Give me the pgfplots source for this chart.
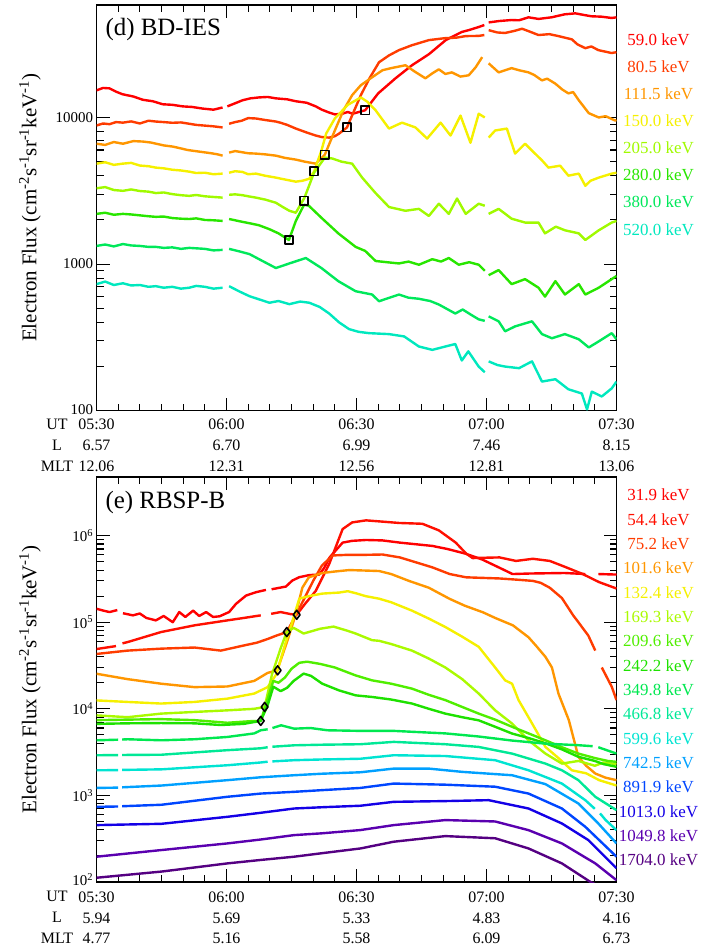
\documentclass[border=0pt]{standalone}
\usepackage{fontspec}
\setmainfont{Liberation Serif}
\usepackage{pgfplots}
\pgfplotsset{compat=1.18}

% channel colours, top panel (BD-IES)
\definecolor{d1}{RGB}{255,0,0}
\definecolor{d2}{RGB}{255,60,0}
\definecolor{d3}{RGB}{255,150,0}
\definecolor{d4}{RGB}{245,240,0}
\definecolor{d5}{RGB}{160,250,0}
\definecolor{d6}{RGB}{40,230,0}
\definecolor{d7}{RGB}{0,232,90}
\definecolor{d8}{RGB}{0,232,190}
% channel colours, bottom panel (RBSP-B)
\definecolor{e1}{RGB}{255,0,0}
\definecolor{e2}{RGB}{255,15,0}
\definecolor{e3}{RGB}{255,60,0}
\definecolor{e4}{RGB}{255,150,0}
\definecolor{e5}{RGB}{245,240,0}
\definecolor{e6}{RGB}{170,250,0}
\definecolor{e7}{RGB}{80,238,0}
\definecolor{e8}{RGB}{30,225,0}
\definecolor{e9}{RGB}{0,232,80}
\definecolor{e10}{RGB}{0,232,150}
\definecolor{e11}{RGB}{0,228,210}
\definecolor{e12}{RGB}{0,160,255}
\definecolor{e13}{RGB}{0,70,255}
\definecolor{e14}{RGB}{20,0,230}
\definecolor{e15}{RGB}{90,0,175}
\definecolor{e16}{RGB}{85,0,130}

\begin{document}
\begin{tikzpicture}
\useasboundingbox (0,0) rectangle (704bp,-947bp);

%% ---------------- (d) BD-IES ----------------
\begin{axis}[at={(96.5bp,-410.7bp)}, anchor=south west,
  scale only axis, width=520bp, height=405.7bp,
  ymode=log, xmin=0, xmax=120, ymin=100, ymax=58500,
  xtick={0,30,60,90,120}, minor x tick num=5,
  tick align=inside, major tick length=13bp, minor tick length=7bp,
  axis line style={line width=1.4bp}, tick style={line width=1.1bp, black},
  xticklabel style={align=center, yshift=-5bp, font=\fontsize{16}{21}\selectfont},
  yticklabel style={font=\fontsize{15}{18}\selectfont},
  unbounded coords=jump, clip mode=individual,
  every axis plot/.append style={line width=2.4bp, line join=round},
  ytick={100,1000,10000}, yticklabels={\raisebox{3bp}{100},1000,10000},
  xticklabels={{05:30\\6.57\\12.06},{06:00\\6.70\\12.31},{06:30\\6.99\\12.56},{07:00\\7.46\\12.81},{07:30\\8.15\\13.06}}]
\addplot[d1] table {
0 15300
1.5 15900
3 15800
4.5 15000
6 14400
8.5 13900
10.7 13200
13 12900
15.3 12300
17.5 12200
19.9 11900
22 11800
24.5 11500
27 11300
29.1 11700
29.6 nan
30.2 11900
32 12500
33.7 13100
35.5 13500
37.5 13700
39.5 13800
41.4 13500
44 13300
46 12900
48.5 12600
50.6 11900
52 11300
53.7 10800
55 10500
56.7 10600
58 10900
59.1 10600
62 11200
65 14600
69 18500
72.8 22700
76.7 27000
80.6 33700
84.3 38300
86 39500
88.2 41400
89.5 42700
89.9 nan
90.5 44500
93 45500
95.8 46200
97.5 46000
99.7 48200
102 47000
105 48200
108 50500
110.5 51300
112.5 50000
114.2 49000
116.5 48700
118.9 47700
120 48200
};
\addplot[d2] table {
0 8810
1.5 9100
3 9000
4.5 9300
6.1 9220
8 9400
10 9100
12 9500
13.7 9380
15.5 9300
17.5 9200
19.5 9250
21.4 9060
23 8900
25 8800
27 8700
29.1 8550
29.6 nan
30.6 9060
32 9300
33.5 9500
35 9900
36.8 9840
39 9600
41.4 9380
42.5 9200
44 8900
46 8400
48.5 7900
50.6 7530
52 7350
53.7 7290
55 7450
56 7770
57.8 8550
59.5 11200
61 14200
63 18500
65.2 23800
67.5 26500
69.8 28800
72.8 31100
76.7 33700
80.6 34800
83 35000
85.2 35900
88.2 36000
89.5 36500
89.9 nan
90.5 39400
92.5 38000
94.3 37700
96.5 39000
98.2 40300
100 38500
102 36500
104.5 37000
106.6 35900
109.7 34100
111 31500
112.8 29700
114.2 30500
115.8 28800
118.9 27500
120 27900
};
\addplot[d3] table {
0 6620
2 6500
4 6800
6.1 6620
8.5 6900
10.7 6850
12.5 6750
14 6600
15.5 6450
17.6 6330
19.5 6150
21 6000
23.7 5850
26.5 5700
28 5600
29.1 5490
29.6 nan
30.6 5760
32 5900
33.5 5800
35 5700
36.8 5670
39 5600
41.4 5490
43.5 5300
46 5160
48 5000
50.6 4840
52.7 5580
55 8150
57 11200
59 14200
61 16600
63.6 18800
66 21000
68 21700
71.3 22700
73.5 20500
75.9 18500
77.5 20000
79 21300
80.5 19800
82 20300
84 19000
85.9 19400
87.5 22000
89 25800
89.5 nan
90.5 23400
92.8 20300
94.3 21000
95.8 21700
97.5 21000
99.7 20300
101 19500
102.8 17900
104 18400
105.9 17000
107.5 15500
108.9 14600
110 14900
111.3 13100
113.6 10700
115.9 10000
117.5 10200
119.7 9530
120 9600
};
\addplot[d4] table {
0 4840
2 4950
4 4750
6 4840
8 4900
10 4700
12 4650
13.7 4550
15.5 4500
17.5 4400
19.5 4350
21.4 4270
23 4180
25 4200
27 4100
29.1 4140
29.6 nan
30.6 4200
32 4300
33.7 4250
35 4100
36.8 4140
39 4000
41.4 3890
43 3800
44 3750
46 3650
47.5 3700
49.1 3820
50.2 4270
51.9 5940
53 7770
55 9840
58 12200
61 13700
62.5 12800
64.4 11200
67.5 8400
70.5 9220
73.6 8550
76.3 7180
79.4 9220
81.7 7530
84 10300
86.3 6720
88.2 10600
89.6 10000
90 nan
90.5 7290
92 8150
94.7 8400
96.6 5670
98.9 6620
101.2 5670
102.8 5100
104.3 4550
107 4690
108.9 4010
111.3 4140
112.8 3420
114 3700
115.9 3890
118.9 4140
120 4200
};
\addplot[d5] table {
0 3290
2 3350
4 3200
6.1 3160
8 3230
10 3150
12 3120
13.7 3050
15.5 3080
17.5 3000
19.5 2950
21.4 2920
23 2960
25 2900
27 2870
29.1 2840
29.6 nan
30.6 2970
32 2990
33.7 2950
35 2900
36.8 2840
39 2750
41.4 2620
43 2450
44.5 2310
46 2240
48 2840
50.2 4200
52.7 5330
54.4 5250
56.5 5000
59 4840
61.3 3890
64.4 3050
67.5 2450
71.3 2310
74.4 2380
76.7 2130
79 2580
81.3 2200
83.2 2800
85.2 2200
88.2 2580
89.6 2500
90 nan
90.5 2200
92.8 2380
95.8 2040
98.9 1920
102 1920
103.5 1620
106 1800
108.1 1700
111.3 1620
112.8 1460
115.9 1700
118.9 1920
120 1970
};
\addplot[d6] table {
0 2200
2 2240
4 2170
6.1 2200
8 2180
10 2150
12 2120
13.7 2100
15.5 2110
17.5 2060
19.5 2040
21.4 2030
23 2050
25 2000
27 1990
29.1 1970
29.6 nan
30.6 2030
33 1960
35.3 1900
37.5 1840
39.9 1730
42 1620
44.4 1460
46 1970
47.9 2540
49 2500
51.9 2070
55.8 1620
59.8 1310
62 1230
64.4 1050
67 1030
69.8 1010
72 1040
74.4 990
77.5 1080
79.5 1040
81.3 1100
83.6 990
86 1030
88.2 990
89.6 900
90 nan
90.5 840
92.8 910
95.8 730
98.9 790
102 690
103.5 600
105.9 765
108.1 620
111.3 730
112.8 620
115.9 690
118.9 790
120 830
};
\addplot[d7] table {
0 1330
2 1360
4 1320
6.1 1370
8 1340
10 1330
12 1310
13.7 1310
15.5 1290
17.5 1300
19.5 1270
21.4 1290
25 1270
27 1240
29.1 1250
29.6 nan
30.6 1270
33 1220
35.3 1170
38.3 1050
41.4 940
44.5 1010
48.3 1100
51.9 940
55.8 765
59.8 653
63.6 620
65.2 558
69.8 620
72 590
74.4 580
77 560
79 530
82.8 460
84.5 490
86.5 450
88.2 420
89.6 410
90 nan
90.5 440
92.8 407
94.3 348
96.6 376
100.5 407
102.8 333
105.1 312
108.1 333
111.3 307
113.6 270
115.9 297
118.9 338
120 307
};
\addplot[d8] table {
0 730
2 760
4 720
6.1 740
8 715
10 720
12 700
13.7 707
15.5 690
17.5 700
19.5 680
21.4 690
23 710
25 700
27 680
29.1 690
29.6 nan
30.6 707
33 650
35.3 604
37.5 575
39.9 545
42 560
44.5 533
47 555
49.1 545
51.5 510
53.7 460
56 400
58.3 360
60.5 345
62.9 338
67.5 333
71 321
74.4 274
77.5 260
80.5 274
82.8 285
84.3 220
85.8 254
88.2 200
89.6 183
90 nan
90.5 217
92.5 205
94.3 200
97.5 195
100.5 217
102.8 158
105.9 164
108.9 140
112 131
113.2 102
114.3 135
116.6 125
118.9 142
120 158
};
% onset markers
\addplot[only marks, mark=square, mark size=4.2bp, mark options={black, line width=1.6bp}] table {
44.4 1460
47.9 2700
50.2 4300
52.7 5580
57.8 8550
62.0 11200
};
\end{axis}

\node[anchor=west, font=\fontsize{25}{28}\selectfont] at (102bp,-30bp) {(d) BD-IES};
\node[rotate=90, font=\fontsize{21}{25}\selectfont] at (30bp,-207.8bp) {Electron Flux (cm\textsuperscript{-2}s\textsuperscript{-1}sr\textsuperscript{-1}keV\textsuperscript{-1})};
\node[anchor=north, align=center, font=\fontsize{16}{21}\selectfont] at (57bp,-415.7bp) {UT\\L\\MLT};
\foreach \t/\c [count=\i from 0] in {59.0/d1,80.5/d2,111.5/d3,150.0/d4,205.0/d5,280.0/d6,380.0/d7,520.0/d8}
  \node[text=\c, font=\fontsize{17}{20}\selectfont] at (658.5bp,-39.3bp-\i*27.14bp) {\t\ keV};

%% ---------------- (e) RBSP-B ----------------
\begin{axis}[at={(96.5bp,-882bp)}, anchor=south west,
  scale only axis, width=520bp, height=405bp,
  ymode=log, xmin=0, xmax=120, ymin=100, ymax=4.75e6,
  xtick={0,30,60,90,120}, minor x tick num=5,
  tick align=inside, major tick length=13bp, minor tick length=7bp,
  axis line style={line width=1.4bp}, tick style={line width=1.1bp, black},
  xticklabel style={align=center, yshift=-6bp, font=\fontsize{16}{21}\selectfont},
  yticklabel style={font=\fontsize{15}{18}\selectfont},
  unbounded coords=jump, clip mode=individual,
  every axis plot/.append style={line width=2.4bp, line join=round},
  ytick={1e2,1e3,1e4,1e5,1e6},
  yticklabels={\raisebox{5bp}{10\textsuperscript{2}},10\textsuperscript{3},10\textsuperscript{4},10\textsuperscript{5},10\textsuperscript{6}},
  xticklabels={{05:30\\5.94\\4.77},{06:00\\5.69\\5.16},{06:30\\5.33\\5.58},{07:00\\4.83\\6.09},{07:30\\4.16\\6.73}}]
\addplot[e1] table {
0 143000
1.6 136000
3 131000
4.8 138000
5.3 nan
6.1 127000
8.4 120000
10 126000
11.5 112000
13.7 105000
15.5 118000
17.6 100000
19.1 131000
20.5 115000
22.3 136000
23.7 118000
25.3 131000
26.9 115000
28.4 117000
30.6 131000
32.2 163000
34.5 203000
36.8 222000
39.1 236000
39.7 nan
40.4 240000
43.7 258000
45.2 303000
46.8 331000
49.1 350000
51.4 355000
52.5 420000
53.8 560000
56.8 830000
59 870000
62.2 890000
66 880000
70 830000
77.5 760000
81 700000
85.1 620000
89 530000
92.8 430000
96 360000
100 365000
108 370000
112.8 360000
114.3 nan
115.8 360000
120 355000
};
\addplot[e2] table {
0 49000
4.5 53000
5.2 nan
6 57000
7.2 59000
14.9 77000
22.6 92000
30.2 105000
34 112000
37.9 120000
38.8 nan
40.3 125000
42.5 131000
44.8 124000
46.2 122000
48 160000
50.6 230000
53.7 470000
56.8 1190000
59 1420000
62.2 1500000
66 1450000
69.8 1400000
75.2 1370000
79 1150000
82.9 830000
85.3 620000
86.8 550000
89.5 555000
93 560000
96.8 510000
100.7 540000
104.6 510000
108.4 430000
112.2 360000
116 290000
120 245000
};
\addplot[e3] table {
0 43000
7.2 47000
14.9 49500
22.6 51000
28.7 47000
34.1 54000
37 58000
39.5 64000
41.5 70000
43.9 77000
46 120000
48 190000
50 300000
52 450000
54.5 590000
58 600000
62.2 600000
66 605000
70 560000
73.8 490000
77.5 430000
81.5 360000
85.3 330000
89 325000
93 320000
97 310000
100.7 300000
102.5 285000
104.6 250000
107.4 190000
110 120000
111.2 100000
113.5 70000
115.1 47000
115.6 nan
116.6 30000
118.9 18000
120 12600
};
\addplot[e4] table {
0 25400
7.2 22000
14.9 19500
22.6 17800
30.2 18100
36.4 21000
39.5 26000
41.7 27800
44 60000
46 125000
47.5 250000
49 330000
52.1 370000
55 385000
58.3 400000
62 395000
65.2 390000
68 360000
72.1 300000
76.7 250000
81.5 186000
85 155000
89.2 130000
92 112000
96.1 92000
99.7 67000
101.5 53000
103.6 39800
105.1 30000
106.6 15000
109 7400
111.2 2790
113 2200
115.1 1790
117.5 1600
120 1500
};
\addplot[e5] table {
0 12500
7.2 12000
14.9 11500
22.6 12000
30.2 13100
36.4 15000
39.5 17800
41.5 25000
43.5 55000
45 95000
46.8 187000
49 200000
52.1 214000
56 220000
58 228000
60 215000
62.1 200000
65.2 187000
68 170000
72.8 136000
76.7 110000
80.5 88000
84.4 68000
88.2 52000
92 30000
94.3 21300
95.9 19500
97.4 12600
100.5 6800
103.6 3630
106.6 2700
109.7 1950
113 1800
116 1500
120 1300
};
\addplot[e6] table {
0 8400
7.2 8000
14.9 8800
22.6 9200
30.2 9600
36.4 10000
38.8 10500
40.5 25000
42.5 50000
43.9 77000
45.5 86000
47.8 74000
51.6 84000
54.7 89000
57.8 80000
59.8 74000
63.6 62000
65.2 61000
68 56000
72.8 47000
76.7 38000
80.5 30000
84.4 22000
88.2 15000
92 9600
95.9 6760
99.7 4330
103.6 3040
107.4 2330
111.2 2500
115 2200
117 2400
120 2300
};
\addplot[e7] table {
0 7400
7.2 7500
14.9 7600
22.6 7400
30.2 6900
35.6 7200
37.9 7250
39.5 13000
40.8 21000
42 20000
43.5 23000
45 29000
46.8 34000
48.6 35000
51.6 33000
55 30000
59.8 24300
63.6 21300
68 19500
72.8 17100
76.7 14500
80.5 12600
84.4 10500
88.2 8800
92 7500
95.9 6200
99.7 5200
103.6 4330
107.4 3600
111.2 3040
115 2700
118 2500
120 2440
};
\addplot[e8] table {
0 6700
7.2 6800
14.9 6850
22.6 6800
28.7 6500
34 6700
37.9 7250
39.5 11000
40.8 18000
42.5 16000
44 17500
45.5 21000
47.8 25500
49.5 24000
52.1 19500
56 16300
59.8 14300
63.6 13700
68 12800
72.8 11500
76.7 10000
80.5 8800
84.4 8000
88.2 7360
92 6200
95.9 5180
99.7 4600
103.6 4000
107.4 3400
111.2 2790
115 2500
117 2300
120 2140
};
\addplot[e9] table {
0 4330
5 4400
5.4 nan
5.9 4420
7.2 4450
15 4330
22.6 4450
30.2 4730
36.4 5200
37.9 5650
39.5 5800
39.9 nan
40.6 6000
42.6 6450
45.6 5900
49.4 6000
53.3 5650
60.9 5560
68.6 5560
80.5 5200
88 4800
95.9 4300
103.6 3960
111.2 3800
114.5 3700
115 nan
115.8 3600
120 3040
};
\addplot[e10] table {
0 2910
5 2920
5.4 nan
5.9 2930
15 2950
30.2 3330
37.9 3500
39.5 3600
39.9 nan
40.6 3650
45.6 3790
52 3850
60.9 3900
68.6 4150
80.5 3900
88.2 3630
95.9 3040
103.6 2330
107.4 1950
111.2 1500
115.1 964
120 676
};
\addplot[e11] table {
0 1950
5 1960
5.4 nan
5.9 1970
15 2000
30.2 2230
37.9 2400
39.5 2450
39.9 nan
40.6 2470
45.6 2550
52 2600
60.9 2650
68.6 2910
80.5 2850
92 2550
99.7 1950
107.4 1370
112.8 881
115 700
115.5 nan
116.2 620
117.5 519
120 397
};
\addplot[e12] table {
0 1220
5 1230
5.4 nan
5.9 1240
15 1300
30.2 1500
37.9 1620
45.6 1710
52 1780
60.9 1850
68.6 2040
76.7 2040
84.4 1870
95.9 1710
103.6 1350
111.2 807
115.8 474
120 279
};
\addplot[e13] table {
0 738
5 745
5.4 nan
5.9 750
15 780
30.2 964
37.9 1050
45.6 1100
52 1150
60.9 1220
68.6 1370
80.5 1330
92 1260
99.7 1050
107.4 706
112.8 434
120 196
};
\addplot[e14] table {
0 454
15 470
30.2 566
37.9 630
45.6 706
52 730
60.9 760
68.6 843
80.5 860
90.5 881
99.7 706
107.4 474
113.5 305
120 144
};
\addplot[e15] table {
0 196
15 234
30.2 279
38 310
45.6 348
52 365
60.9 398
68.6 454
80.5 519
92 500
99.7 397
107.4 279
115.1 164
120 105
};
\addplot[e16] table {
0 112
15 132
30.2 164
38 180
45.6 196
52 215
60.9 244
68.6 292
80.5 339
92 320
99.7 244
107.4 164
114 100
117 85
120 75
};
% onset markers
\addplot[only marks, mark=diamond, mark size=4.5bp, mark options={black, line width=1.6bp}] table {
37.9 7250
38.8 10500
41.8 27800
43.9 77000
46.2 122000
};
\end{axis}

\node[anchor=west, font=\fontsize{25}{28}\selectfont] at (102bp,-503bp) {(e) RBSP-B};
\node[rotate=90, font=\fontsize{21}{25}\selectfont] at (30bp,-679.5bp) {Electron Flux (cm\textsuperscript{-2}s\textsuperscript{-1}sr\textsuperscript{-1}keV\textsuperscript{-1})};
\node[anchor=north, align=center, font=\fontsize{16}{21}\selectfont] at (57bp,-888bp) {UT\\L\\MLT};
\foreach \t/\c [count=\i from 0] in {31.9/e1,54.4/e2,75.2/e3,101.6/e4,132.4/e5,169.3/e6,209.6/e7,242.2/e8,349.8/e9,466.8/e10,599.6/e11,742.5/e12,891.9/e13,1013.0/e14,1049.8/e15,1704.0/e16}
  \node[text=\c, font=\fontsize{17}{20}\selectfont] at (658.5bp,-495bp-\i*24.33bp) {\t\ keV};
\end{tikzpicture}
\end{document}
